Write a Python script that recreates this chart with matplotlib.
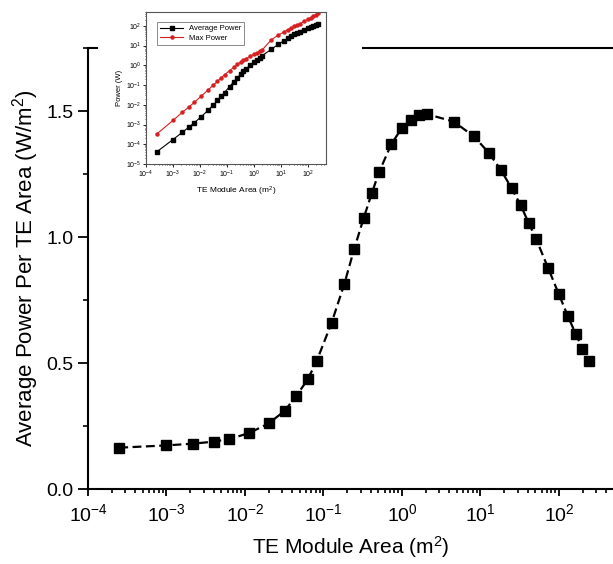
import numpy as np
import matplotlib.pyplot as plt
from matplotlib.patches import Rectangle
from matplotlib.ticker import LogLocator, MultipleLocator, NullFormatter, FormatStrFormatter

plt.rcParams['font.family'] = ['Liberation Sans', 'DejaVu Sans']
plt.rcParams['mathtext.fontset'] = 'custom'
plt.rcParams['mathtext.rm'] = 'Liberation Sans'
plt.rcParams['mathtext.it'] = 'Liberation Sans:italic'
plt.rcParams['mathtext.default'] = 'regular'

# TE module area (m^2)
area = [2.5e-4, 1e-3, 2.2e-3, 4e-3, 6.3e-3, 1.13e-2, 2e-2, 3.2e-2, 4.5e-2, 6.3e-2,
        8.2e-2, 0.127, 0.184, 0.247, 0.325, 0.415, 0.51, 0.73, 0.99, 1.30,
        1.65, 2.06, 4.55, 8.2, 12.7, 18.2, 24.9, 32.5, 41, 51,
        73, 99, 129, 163, 199, 243]
# average power per TE area (W/m^2)
power_density = [0.164, 0.173, 0.180, 0.188, 0.198, 0.222, 0.260, 0.310, 0.369, 0.435,
                 0.508, 0.660, 0.813, 0.954, 1.075, 1.176, 1.257, 1.368, 1.431, 1.466,
                 1.483, 1.488, 1.458, 1.400, 1.335, 1.266, 1.194, 1.126, 1.057, 0.993,
                 0.876, 0.775, 0.688, 0.616, 0.557, 0.508]
# inset: power (W)
avg_power = [4.1e-5, 1.73e-4, 3.96e-4, 7.5e-4, 1.25e-3, 2.5e-3, 5.2e-3, 9.9e-3, 1.66e-2, 2.74e-2,
             4.17e-2, 8.4e-2, 0.150, 0.236, 0.349, 0.488, 0.641, 1.0, 1.42, 1.91,
             2.45, 3.07, 6.6, 11.5, 17.0, 23.0, 29.7, 36.6, 43.3, 50.6,
             63.9, 76.7, 88.8, 100.4, 110.8, 123.4]
max_power = [3.3e-4, 1.6e-3, 4.1e-3, 7.9e-3, 1.35e-2, 2.75e-2, 5.6e-2, 0.10, 0.155, 0.24,
             0.33, 0.54, 0.79, 1.10, 1.48, 1.86, 2.14, 2.82, 3.55, 4.27,
             5.13, 6.03, 20.0, 33.9, 47.9, 63.1, 77.6, 93.3, 107, 126,
             166, 209, 251, 309, 372, 447]

fig = plt.figure(figsize=(6.13, 5.64), dpi=100)
ax = fig.add_axes([88/613, 1-489/564, 1-88/613, (489-48)/564])
ax.plot(area, power_density, color='black', linestyle=(0, (4, 2)), linewidth=1.6,
        marker='s', markersize=7, markerfacecolor='black', markeredgecolor='black')
ax.set_xscale('log')
ax.set_xlim(1e-4, 488)
ax.set_ylim(0, 1.75)
ax.yaxis.set_major_locator(MultipleLocator(0.5))
ax.yaxis.set_minor_locator(MultipleLocator(0.25))
ax.yaxis.set_major_formatter(FormatStrFormatter('%.1f'))
ax.xaxis.set_major_locator(LogLocator(base=10, numticks=20))
ax.xaxis.set_minor_locator(LogLocator(base=10, subs=np.arange(2, 10), numticks=20))
ax.xaxis.set_minor_formatter(NullFormatter())
ax.spines['right'].set_visible(False)
for s in ['left', 'bottom', 'top']:
    ax.spines[s].set_linewidth(1.5)
ax.tick_params(axis='x', which='major', direction='out', length=5, width=1.3, labelsize=14, pad=5)
ax.tick_params(axis='x', which='minor', direction='out', length=3, width=1.2)
ax.tick_params(axis='y', which='major', direction='out', length=7, width=1.3, labelsize=14)
ax.tick_params(axis='y', which='minor', direction='out', length=3.5, width=1.2)
ax.set_xlabel('TE Module Area (m$^2$)', fontsize=15, labelpad=7)
ax.set_ylabel('Average Power Per TE Area (W/m$^2$)', fontsize=16, labelpad=4)

# white backing behind the inset
fig.add_artist(Rectangle((98/613, 1-200/564), (362-98)/613, 200/564,
                         transform=fig.transFigure, facecolor='white',
                         edgecolor='none', zorder=1))

ins = fig.add_axes([146/613, 1-164/564, 180/613, 152/564], zorder=2)
ins.plot(area, avg_power, color='black', linewidth=0.8, marker='s', markersize=2.2,
         label='Average Power')
ins.plot(area, max_power, color='#d42020', linewidth=0.8, marker='o', markersize=2.2,
         label='Max Power')
ins.set_xscale('log')
ins.set_yscale('log')
ins.set_xlim(1e-4, 480)
ins.set_ylim(1e-5, 500)
ins.xaxis.set_major_locator(LogLocator(base=10, numticks=20))
ins.xaxis.set_minor_locator(LogLocator(base=10, subs=np.arange(2, 10), numticks=20))
ins.yaxis.set_major_locator(LogLocator(base=10, numticks=20))
ins.yaxis.set_minor_locator(LogLocator(base=10, subs=np.arange(2, 10), numticks=20))
ins.xaxis.set_minor_formatter(NullFormatter())
ins.yaxis.set_minor_formatter(NullFormatter())
for s in ins.spines.values():
    s.set_linewidth(0.8)
    s.set_color('#555555')
ins.tick_params(which='major', direction='out', length=2, width=0.6, labelsize=5, pad=1.5)
ins.tick_params(which='minor', direction='out', length=1, width=0.5)
ins.set_xlabel('TE Module Area (m$^2$)', fontsize=6, labelpad=3)
ins.set_ylabel('Power (W)', fontsize=5.5, labelpad=2)
leg = ins.legend(loc='upper left', fontsize=5.5, frameon=True, fancybox=False,
                 edgecolor='#555555', handlelength=3, borderpad=0.4,
                 labelspacing=0.3, bbox_to_anchor=(0.04, 0.96))
leg.get_frame().set_linewidth(0.6)

fig.savefig('out.png', dpi=100)
